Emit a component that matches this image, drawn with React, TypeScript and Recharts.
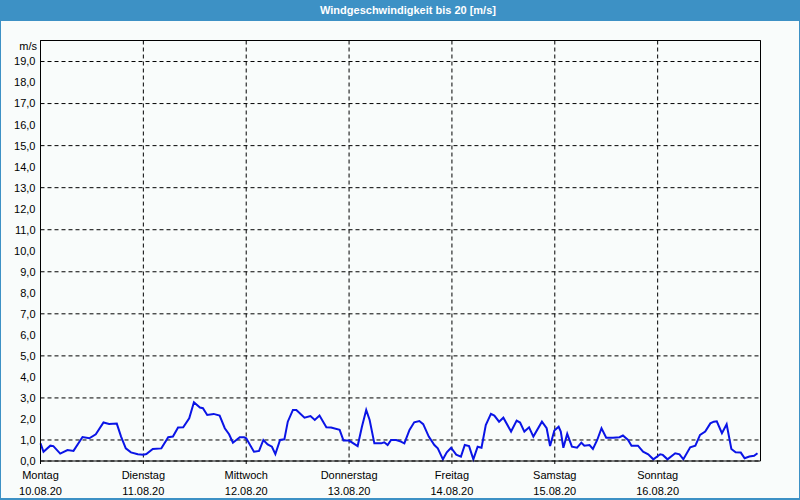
import React from "react"
import {
  LineChart, Line, XAxis, YAxis, CartesianGrid, ReferenceLine
} from "recharts"

// hours since Monday 00:00 and wind speed in m/s
const hours = [
  0, 0.7, 2.3, 3.0, 4.6, 6.3, 7.7, 9.8, 11.4, 12.9, 14.7, 16.0, 17.8, 18.8, 19.9, 21.1, 22.7,
  24.0, 24.7, 26.2, 28.2, 29.8, 30.9, 32.1, 33.3, 34.7, 35.8, 37.2, 37.9, 38.9, 40.4, 41.8, 43.0,
  44.0, 44.9, 46.5, 47.5, 48.0, 49.8, 51.0, 52.0, 53.0, 54.0, 54.8, 55.9, 56.9, 57.7, 58.9, 59.7,
  61.6, 63.0, 64.0, 65.1, 66.7, 67.8, 69.8, 70.7, 72.0, 74.0, 75.0, 76.0, 76.8, 77.9, 79.5, 80.2,
  81.0, 81.8, 83.0, 84.1, 84.9, 86.1, 87.2, 88.4, 89.3, 90.6, 91.9, 92.7, 93.9, 94.8, 95.8, 97.0,
  98.1, 99.0, 100.0, 101.0, 102.0, 102.9, 103.9, 105.1, 105.9, 107.0, 108.0, 109.8, 111.1, 111.9,
  112.9, 114.0, 115.0, 117.0, 118.1, 118.9, 119.9, 120.9, 121.4, 122.0, 122.9, 124.0, 125.2, 126.2,
  126.9, 128.1, 128.9, 129.9, 130.9, 132.0, 133.6, 135.1, 135.9, 137.1, 137.9, 139.4, 140.6, 141.8,
  143.0, 144.6, 145.2, 146.3, 148.1, 149.1, 150.0, 151.6, 152.8, 153.9, 155.1, 156.3, 157.1, 157.8,
  159.0, 160.1, 161.2, 162.2, 163.4, 164.3, 165.4, 166.5, 167.3,
]
const speeds = [
  0.84, 0.44, 0.73, 0.71, 0.35, 0.52, 0.48, 1.14, 1.08, 1.27, 1.83, 1.76, 1.78, 1.16, 0.6, 0.41, 0.32,
  0.3, 0.33, 0.57, 0.6, 1.13, 1.16, 1.59, 1.6, 2.03, 2.79, 2.54, 2.51, 2.19, 2.24, 2.16, 1.56,
  1.27, 0.87, 1.13, 1.13, 1.08, 0.44, 0.48, 1.0, 0.79, 0.68, 0.33, 1.0, 1.03, 1.87, 2.43, 2.43,
  2.06, 2.14, 1.95, 2.16, 1.6, 1.59, 1.48, 0.97, 0.97, 0.71, 1.63, 2.43, 1.95, 0.84, 0.84, 0.89,
  0.76, 1.0, 1.0, 0.92, 0.84, 1.48, 1.84, 1.9, 1.75, 1.16, 0.76, 0.6, 0.08, 0.41, 0.63, 0.3,
  0.21, 0.76, 0.71, 0.08, 0.68, 0.63, 1.71, 2.24, 2.16, 1.87, 2.06, 1.4, 1.92, 1.83,
  1.4, 1.6, 1.16, 1.87, 1.56, 0.71, 1.45, 1.63, 1.4, 0.63, 1.29, 0.68, 0.63, 0.87,
  0.73, 0.76, 0.57, 1.0, 1.56, 1.11, 1.11, 1.13, 1.21, 1.0, 0.73, 0.73, 0.44, 0.32,
  0.08, 0.32, 0.29, 0.08, 0.37, 0.32, 0.08, 0.65, 0.73, 1.24, 1.4, 1.79, 1.87, 1.89,
  1.32, 1.75, 0.57, 0.41, 0.4, 0.13, 0.21, 0.25, 0.37,
]

const dayTicks = [0, 24, 48, 72, 96, 120, 144]
const dayNames = ["Montag", "Dienstag", "Mittwoch", "Donnerstag", "Freitag", "Samstag", "Sonntag"]
const dayDates = ["10.08.20", "11.08.20", "12.08.20", "13.08.20", "14.08.20", "15.08.20", "16.08.20"]
const yTicks = [0, 1, 2, 3, 4, 5, 6, 7, 8, 9, 10, 11, 12, 13, 14, 15, 16, 17, 18, 19]

const data = hours.map((h, i) => ({ h, v: speeds[i] }))

const FONT = "'Liberation Sans', Arial, sans-serif"
const BLUE = "#3d91c5"

function DayTick(props: any) {
  const { x, y, payload } = props
  const i = dayTicks.indexOf(payload.value)
  return (
    <text x={x} y={y} textAnchor="middle" fontSize={11} fontFamily={FONT} fill="#000">
      <tspan x={x} dy={13}>{dayNames[i]}</tspan>
      <tspan x={x} dy={16}>{dayDates[i]}</tspan>
    </text>
  )
}

export default function App() {
  return (
    <div style={{ position: "absolute", left: 0, top: 0, width: 800, height: 500, background: "#f9fcfb", fontFamily: FONT }}>
      <div style={{
        position: "absolute", left: 0, top: 0, width: 800, height: 21, background: BLUE,
        color: "#fff", fontWeight: "bold", fontSize: 11, lineHeight: "21px", textAlign: "center",
        paddingLeft: 16, boxSizing: "border-box"
      }}>
        Windgeschwindigkeit bis 20 [m/s]
      </div>
      <div style={{
        position: "absolute", left: 0, top: 21, width: 800, height: 479, boxSizing: "border-box",
        borderLeft: `1px solid ${BLUE}`, borderRight: `1px solid ${BLUE}`, borderBottom: `2px solid ${BLUE}`
      }} />
      <div style={{ position: "absolute", left: 0, top: 40, width: 37, textAlign: "right", fontSize: 11, color: "#000" }}>
        m/s
      </div>
      <div style={{ position: "absolute", left: 0, top: 0 }}>
        <LineChart width={800} height={500} data={data} margin={{ top: 40.5, right: 39.5, bottom: 0, left: 0.5 }}>
          <CartesianGrid stroke="#000" strokeDasharray="4 3" />
          <XAxis
            type="number"
            dataKey="h"
            domain={[0, 168]}
            ticks={dayTicks}
            height={39}
            tickSize={3}
            tickMargin={2}
            stroke="#000"
            tick={<DayTick />}
          />
          <YAxis
            type="number"
            domain={[0, 20]}
            ticks={yTicks}
            width={40}
            tickSize={3}
            tickMargin={2}
            tickLine={false}
            stroke="#000"
            tick={{ fontSize: 11, fontFamily: FONT, fill: "#000" }}
            tickFormatter={(v: number) => v.toFixed(1).replace(".", ",")}
          />
          <ReferenceLine x={168} stroke="#000" />
          <ReferenceLine y={20} stroke="#000" />
          <Line type="linear" dataKey="v" stroke="#0a14e6" strokeWidth={2} dot={false} isAnimationActive={false} />
        </LineChart>
      </div>
    </div>
  )
}
